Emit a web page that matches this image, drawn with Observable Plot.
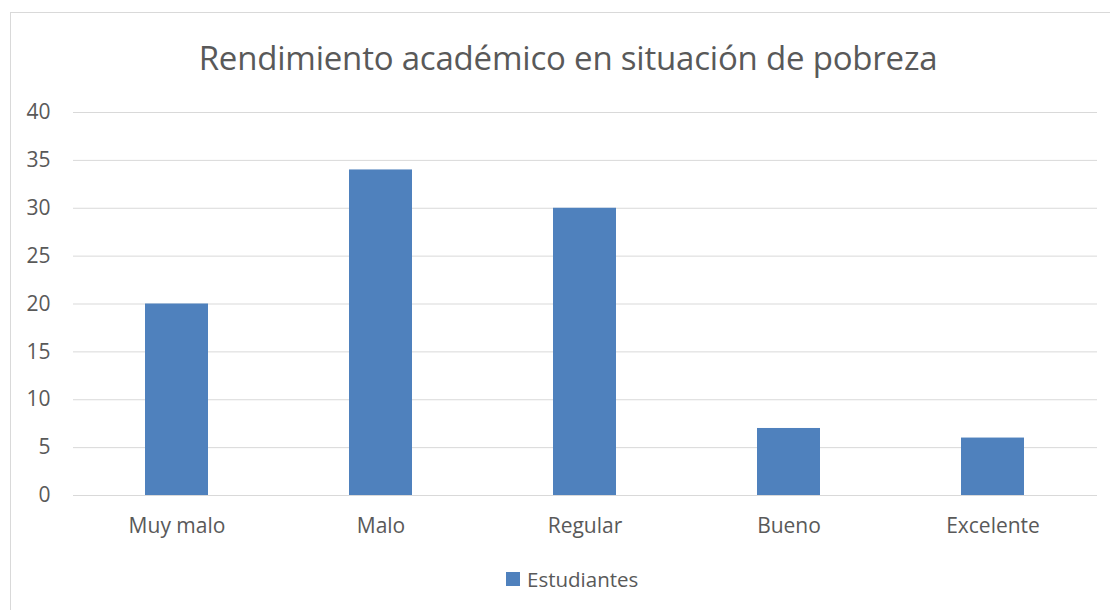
<!DOCTYPE html>
<html>
<head>
<meta charset="utf-8">
<script src="https://cdn.jsdelivr.net/npm/d3@7"></script>
<script src="https://cdn.jsdelivr.net/npm/@observablehq/plot@0.6"></script>
<style>
  html, body { margin: 0; padding: 0; background: #fff; overflow: hidden; }
  body { width: 1110px; height: 610px; position: relative; font-family: "Open Sans", "Noto Sans", sans-serif; }
  #frame { position: absolute; left: 10px; top: 12px; width: 1130px; height: 620px; border: 1px solid #d9d9d9; box-sizing: border-box; }
  #title { position: absolute; left: 0; top: 35px; width: 1136px; text-align: center; font-size: 33px; color: #595959; font-weight: 400; letter-spacing: -0.2px; }
  #chart { position: absolute; left: 0; top: 95px; }
  #legend { position: absolute; left: 506px; top: 565px; display: flex; align-items: center; font-size: 20.5px; color: #595959; }
  #legend .sw { width: 14px; height: 14px; background: #4f81bd; margin-right: 7px; }
</style>
</head>
<body>
<div id="frame"></div>
<div id="title">Rendimiento académico en situación de pobreza</div>
<div id="chart"></div>
<div id="legend"><div class="sw"></div><span>Estudiantes</span></div>
<script>
const categories = ["Muy malo", "Malo", "Regular", "Bueno", "Excelente"];
const estudiantes = [20, 34, 30, 7, 6];
const yTicks = [0, 5, 10, 15, 20, 25, 30, 35, 40];

const data = categories.map((c, i) => ({category: c, value: estudiantes[i]}));

const chart = Plot.plot({
  width: 1110,
  height: 450,
  marginTop: 17,
  marginBottom: 50,
  marginLeft: 73,
  marginRight: 13,
  style: { fontFamily: "'Open Sans', 'Noto Sans', sans-serif", fontSize: "21px", color: "#595959", background: "transparent" },
  x: { domain: categories, paddingInner: 0.69, paddingOuter: 0.345, label: null },
  y: { domain: [0, 40], label: null },
  marks: [
    Plot.ruleY(yTicks, { stroke: "#d9d9d9", strokeWidth: 1 }),
    Plot.barY(data, { x: "category", y: "value", fill: "#4f81bd" }),
    Plot.axisX({ tickSize: 0, tickPadding: 23, label: null, fill: "#595959", fontSize: 21 }),
    Plot.axisY({ ticks: yTicks, tickSize: 0, tickPadding: 23, label: null, fill: "#595959", fontSize: 21 })
  ]
});
document.getElementById("chart").appendChild(chart);
</script>
</body>
</html>
